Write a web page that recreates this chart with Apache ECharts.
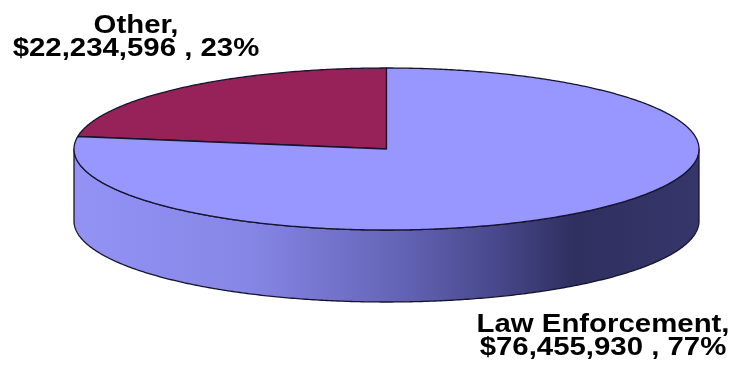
<!DOCTYPE html>
<html>
<head>
<meta charset="utf-8">
<script src="https://cdn.jsdelivr.net/npm/echarts@6/dist/echarts.min.js"></script>
<style>
html,body{margin:0;padding:0;background:#fff;}
#chart{width:742px;height:377px;}
</style>
</head>
<body>
<div id="chart"></div>
<script>
const categories = ['Other', 'Law Enforcement'];
const values = [22234596, 76455930];

const total = values.reduce((a, b) => a + b, 0);
const percents = values.map(v => Math.round(v / total * 100) + '%');
const labels = categories.map((c, i) => c + ',\n$' + values[i].toLocaleString('en-US') + ' , ' + percents[i]);

// layout (pixels)
const CX = 386.5, CY = 149, RX = 312.5, RY = 81, DEPTH = 72;
const START = Math.PI / 2;
const topColors = ['#962259', '#9797FF'];
const edge = '#15152e';
const sideGradient = {
  type: 'linear', x: CX - RX, y: 0, x2: CX + RX, y2: 0, global: true,
  colorStops: [
    { offset: 0, color: '#9393F6' },
    { offset: 0.28, color: '#8686E6' },
    { offset: 0.52, color: '#6464B6' },
    { offset: 0.68, color: '#47478A' },
    { offset: 0.8, color: '#2F2F60' },
    { offset: 1, color: '#36366A' }
  ]
};

function pt(t, dy) {
  return [CX + RX * Math.cos(t), CY - RY * Math.sin(t) + (dy || 0)];
}
function arc(a, b, dy) {
  const n = Math.max(2, Math.ceil(Math.abs(b - a) / (Math.PI / 180) * 2));
  const pts = [];
  for (let k = 0; k <= n; k++) pts.push(pt(a + (b - a) * k / n, dy));
  return pts;
}

function renderItem(params, api) {
  const i = params.dataIndex;
  let before = 0;
  for (let j = 0; j < i; j++) before += values[j];
  const a0 = START + before / total * Math.PI * 2;
  const a1 = a0 + api.value(0) / total * Math.PI * 2;
  const children = [];
  // visible side (front half)
  for (let k = 0; k < 2; k++) {
    const lo = Math.PI + 2 * Math.PI * k, hi = 2 * Math.PI + 2 * Math.PI * k;
    const s = Math.max(a0, lo), e = Math.min(a1, hi);
    if (s < e) {
      const pts = arc(s, e, 0).concat(arc(e, s, DEPTH));
      children.push({
        type: 'polygon',
        shape: { points: pts },
        style: { fill: sideGradient, stroke: edge, lineWidth: 1.3, lineJoin: 'round' }
      });
    }
  }
  // top face
  const topPts = [[CX, CY]].concat(arc(a0, a1, 0));
  children.push({
    type: 'polygon',
    shape: { points: topPts },
    style: { fill: topColors[i], stroke: edge, lineWidth: 1.3, lineJoin: 'round' }
  });
  return { type: 'group', children: children };
}

const labelPos = [[136, 14], [603, 313]];

const chart = echarts.init(document.getElementById('chart'), null, { renderer: 'canvas' });
chart.setOption({
  backgroundColor: '#ffffff',
  animation: false,
  series: [{
    type: 'custom',
    coordinateSystem: 'none',
    renderItem: renderItem,
    data: values.map(v => [v])
  }],
  graphic: labels.map((t, i) => ({
    type: 'text',
    x: labelPos[i][0],
    y: labelPos[i][1],
    scaleX: 1.13,
    style: {
      text: t,
      fill: '#000',
      font: 'bold 26px "Liberation Sans", Arial, sans-serif',
      lineHeight: 23.5,
      align: 'center',
      verticalAlign: 'top'
    }
  }))
});
</script>
</body>
</html>
